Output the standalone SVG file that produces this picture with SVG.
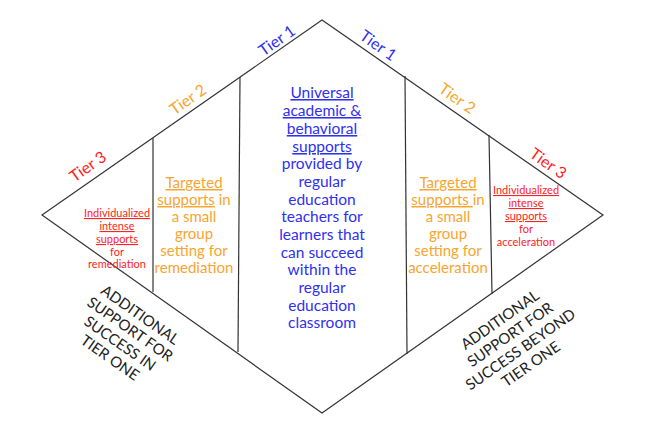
<svg xmlns="http://www.w3.org/2000/svg" width="645" height="425" viewBox="0 0 645 425">
<style>
text{font-family:Lato,"Open Sans",sans-serif;text-anchor:middle}
.ln{stroke:#333;stroke-width:1.2;fill:none}
.b{fill:#3030f0;font-size:15.5px}
.o{fill:#f7a530;font-size:15px}
.r{fill:#f22;font-size:11px}
.t{font-size:16px}
.k{fill:#222;font-size:15px}
.u{text-decoration:underline}
</style>
<rect width="645" height="425" fill="#fff"/>
<g id="connectors">
<polygon class="ln" points="42,215 322,20 603,215 322,413"/>
<line class="ln" x1="153" y1="138" x2="153" y2="292"/>
<line class="ln" x1="240" y1="77" x2="238" y2="352"/>
<line class="ln" x1="405" y1="76" x2="407" y2="354"/>
<line class="ln" x1="489" y1="135" x2="492" y2="294"/>
</g>
<g id="tier-labels">
<text class="t" fill="#3030f0" transform="translate(280,45) rotate(-35)">Tier 1</text>
<text class="t" fill="#3030f0" transform="translate(375,50) rotate(35)">Tier 1</text>
<text class="t" fill="#f7a530" transform="translate(191,104) rotate(-35)">Tier 2</text>
<text class="t" fill="#f7a530" transform="translate(454,103) rotate(35)">Tier 2</text>
<text class="t" fill="#f22" transform="translate(91,171) rotate(-35)">Tier 3</text>
<text class="t" fill="#f22" transform="translate(545,168) rotate(35)">Tier 3</text>
</g>
<g id="tier1">
<text class="b"><tspan class="u" x="322" y="98">Universal</tspan><tspan class="u" x="322" y="116">academic &amp;</tspan><tspan class="u" x="322" y="134">behavioral</tspan><tspan class="u" x="322" y="152">supports</tspan><tspan x="322" y="169">provided by</tspan><tspan x="322" y="187">regular</tspan><tspan x="322" y="205">education</tspan><tspan x="322" y="222">teachers for</tspan><tspan x="322" y="240">learners that</tspan><tspan x="322" y="258">can succeed</tspan><tspan x="322" y="275">within the</tspan><tspan x="322" y="293">regular</tspan><tspan x="322" y="311">education</tspan><tspan x="322" y="328">classroom</tspan></text>
</g>
<g id="tier2-left">
<text class="o"><tspan class="u" x="194" y="188">Targeted</tspan><tspan x="194" y="205"><tspan class="u">supports</tspan> in</tspan><tspan x="194" y="222">a small</tspan><tspan x="194" y="239">group</tspan><tspan x="194" y="256">setting for</tspan><tspan x="194" y="273">remediation</tspan></text>
</g>
<g id="tier2-right">
<text class="o"><tspan class="u" x="448" y="188">Targeted</tspan><tspan x="448" y="205"><tspan class="u">supports </tspan>in</tspan><tspan x="448" y="222">a small</tspan><tspan x="448" y="239">group</tspan><tspan x="448" y="256">setting for</tspan><tspan x="448" y="273">acceleration</tspan></text>
</g>
<g id="tier3-left">
<text class="r"><tspan class="u" x="117" y="217">Individualized</tspan><tspan class="u" x="117" y="230">intense</tspan><tspan class="u" x="117" y="243">supports</tspan><tspan x="117" y="256">for</tspan><tspan x="117" y="268">remediation</tspan></text>
</g>
<g id="tier3-right">
<text class="r"><tspan class="u" x="526" y="194">Individualized</tspan><tspan class="u" x="526" y="207">intense</tspan><tspan class="u" x="526" y="220">supports</tspan><tspan x="526" y="233">for</tspan><tspan x="526" y="246">acceleration</tspan></text>
</g>
<g id="note-left">
<text class="k" transform="translate(140,315) rotate(35)"><tspan x="0" y="5">ADDITIONAL</tspan><tspan x="0" y="22.5">SUPPORT FOR</tspan><tspan x="0" y="40">SUCCESS IN</tspan><tspan x="0" y="57.5">TIER ONE</tspan></text>
</g>
<g id="note-right">
<text class="k" transform="translate(500,320) rotate(-35)"><tspan x="0" y="5">ADDITIONAL</tspan><tspan x="0" y="23">SUPPORT FOR</tspan><tspan x="0" y="41">SUCCESS BEYOND</tspan><tspan x="0" y="59">TIER ONE</tspan></text>
</g>
</svg>
